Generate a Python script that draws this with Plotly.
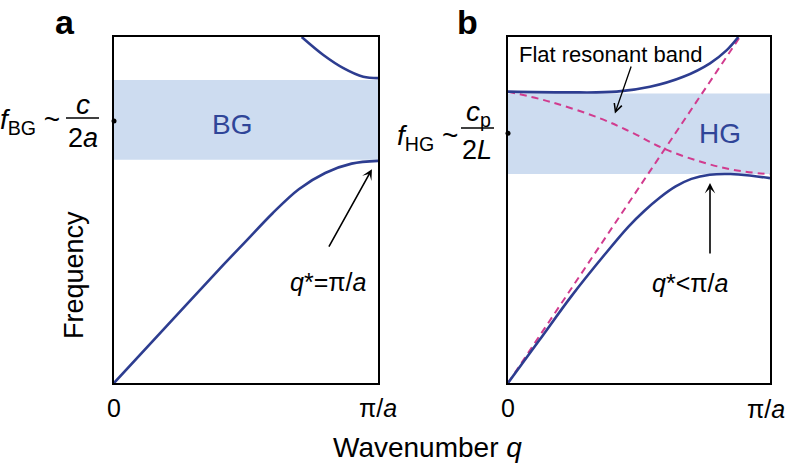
import plotly.graph_objects as go

W, H = 788, 466

# ---------------- data (normalised: q in units of pi/a, frequency in box units) ----------------
a_lower_q = [0, 0.2, 0.4, 0.5, 0.6, 0.7, 0.8, 0.9, 1.0]
a_lower_f = [0, 0.165, 0.33, 0.41, 0.49, 0.56, 0.607, 0.634, 0.642]
a_upper_q = [0.711, 0.793, 0.869, 0.944, 1.0]
a_upper_f = [1.0, 0.948, 0.910, 0.885, 0.881]
a_gap = [0.645, 0.876]
a_gap_mid = 0.757

b_lower_q = [0, 0.12, 0.24, 0.37, 0.46, 0.52, 0.58, 0.64, 0.70, 0.77, 0.85, 0.93, 1.0]
b_lower_f = [0, 0.124, 0.249, 0.372, 0.452, 0.497, 0.536, 0.568, 0.590, 0.602, 0.604, 0.599, 0.592]
b_upper_q = [0, 0.224, 0.415, 0.542, 0.669, 0.771, 0.835, 0.879]
b_upper_f = [0.842, 0.840, 0.842, 0.856, 0.885, 0.924, 0.962, 1.0]
b_flat_q = [0, 0.16, 0.351, 0.478, 0.593, 0.733, 0.86, 1.0]
b_flat_f = [0.842, 0.813, 0.765, 0.722, 0.678, 0.640, 0.616, 0.603]
b_light_q = [0, 0.885]
b_light_f = [0, 1.0]
b_gap = [0.604, 0.837]
b_gap_mid = 0.722

x_tickvals = [0, 1]
x_ticktext = ["0", "π/<i>a</i>"]

# ---------------- styles ----------------
FONT = "Liberation Sans, Arial, Helvetica, sans-serif"
BLUE = "#2d3d90"
TXTBLUE = "#2f4598"
BAND = "#cddcf0"
MAG = "#d13b8e"


def px(x, y):
    return x / W, 1 - y / H


fig = go.Figure()
solid = dict(color=BLUE, width=2.6, shape="spline", smoothing=1.0)

# panel a
fig.add_trace(go.Scatter(x=a_lower_q, y=a_lower_f, mode="lines", line=solid, xaxis="x", yaxis="y"))
fig.add_trace(go.Scatter(x=a_upper_q, y=a_upper_f, mode="lines", line=solid, xaxis="x", yaxis="y"))
fig.add_trace(go.Scatter(x=[0], y=[a_gap_mid], mode="markers", marker=dict(color="black", size=5), cliponaxis=False, xaxis="x", yaxis="y"))

# panel b
fig.add_trace(go.Scatter(x=b_light_q, y=b_light_f, mode="lines", line=dict(color=MAG, width=2, dash="7px,5px"), xaxis="x2", yaxis="y2"))
fig.add_trace(go.Scatter(x=b_flat_q, y=b_flat_f, mode="lines", line=dict(color=MAG, width=2, dash="7px,5px", shape="spline", smoothing=1.0), xaxis="x2", yaxis="y2"))
fig.add_trace(go.Scatter(x=b_lower_q, y=b_lower_f, mode="lines", line=solid, xaxis="x2", yaxis="y2"))
fig.add_trace(go.Scatter(x=b_upper_q, y=b_upper_f, mode="lines", line=solid, xaxis="x2", yaxis="y2"))
fig.add_trace(go.Scatter(x=[0], y=[b_gap_mid], mode="markers", marker=dict(color="black", size=5), cliponaxis=False, xaxis="x2", yaxis="y2"))

# gap bands
fig.add_shape(type="rect", xref="x", yref="y", x0=0, x1=1, y0=a_gap[0], y1=a_gap[1], fillcolor=BAND, line_width=0, layer="below")
fig.add_shape(type="rect", xref="x2", yref="y2", x0=0, x1=1, y0=b_gap[0], y1=b_gap[1], fillcolor=BAND, line_width=0, layer="below")

ydom = [(H - 383) / H, (H - 37) / H]
axis_common = dict(range=[0, 1], showgrid=False, zeroline=False, showline=True, mirror=True,
                   linecolor="black", linewidth=1.5, fixedrange=True, automargin=False)
fig.update_layout(
    width=W, height=H, margin=dict(l=0, r=0, t=0, b=0, pad=0, autoexpand=False),
    paper_bgcolor="white", plot_bgcolor="white", showlegend=False,
    font=dict(family=FONT, color="black"),
    xaxis=dict(domain=[114 / W, 378 / W], tickvals=x_tickvals, ticktext=x_ticktext, ticks="",
               tickfont=dict(size=25, family=FONT), ticklabelstandoff=2, **axis_common),
    yaxis=dict(domain=ydom, showticklabels=False, ticks="", **axis_common),
    xaxis2=dict(domain=[508 / W, 770 / W], tickvals=x_tickvals[:1], ticktext=x_ticktext[:1], ticks="",
                tickfont=dict(size=25, family=FONT), ticklabelstandoff=2, anchor="y2", **axis_common),
    yaxis2=dict(domain=ydom, showticklabels=False, ticks="", anchor="x2", **axis_common),
)

ann = []


def ptext(x, y, text, size, xanchor="center", yanchor="middle", angle=0, color="black"):
    xx, yy = px(x, y)
    ann.append(dict(x=xx, y=yy, xref="paper", yref="paper", text=text, showarrow=False,
                    xanchor=xanchor, yanchor=yanchor, textangle=angle,
                    font=dict(size=size, family=FONT, color=color)))


# panel letters
ptext(65, 22, "<b>a</b>", 34)
ptext(467, 22, "<b>b</b>", 34)

# right-end tick label of panel b (kept inside the page)
ptext(787, 409, x_ticktext[1], 25, xanchor="right")

# axis titles
ptext(74, 275, "Frequency", 27, angle=-90)
ptext(428, 447, "Wavenumber <i>q</i>", 28)

# gap labels (data coords)
ann.append(dict(x=0.446, y=0.746, xref="x", yref="y", text="BG", showarrow=False,
                font=dict(size=28, family=FONT, color=TXTBLUE)))
ann.append(dict(x=0.809, y=0.722, xref="x2", yref="y2", text="HG", showarrow=False,
                font=dict(size=28, family=FONT, color=TXTBLUE)))

# frequency formulas
ptext(62, 122, "<i>f</i><sub>BG</sub> ~", 28, xanchor="right")
ptext(83, 104, "<i>c</i>", 28)
ptext(83, 138, "2<i>a</i>", 27)
ptext(460, 137, "<i>f</i><sub>HG</sub> ~", 28, xanchor="right")
ptext(478, 113, "<i>c</i><sub>p</sub>", 28)
ptext(477, 150, "2<i>L</i>", 27)
fig.add_shape(type="line", xref="paper", yref="paper", x0=66 / W, x1=99 / W, y0=1 - 118 / H, y1=1 - 118 / H, line=dict(color="black", width=1.5))
fig.add_shape(type="line", xref="paper", yref="paper", x0=461 / W, x1=494 / W, y0=1 - 128 / H, y1=1 - 128 / H, line=dict(color="black", width=1.5))

# arrows and annotations in panels
ann.append(dict(x=0.977, y=0.618, ax=0.811, ay=0.390, xref="x", yref="y", axref="x", ayref="y",
                showarrow=True, arrowhead=3, arrowsize=1.1, arrowwidth=1.6, arrowcolor="black", text=""))
ann.append(dict(x=0.811, y=0.292, xref="x", yref="y", text="<i>q</i>*=π/<i>a</i>", showarrow=False,
                font=dict(size=25, family=FONT)))
ann.append(dict(x=0.771, y=0.578, ax=0.771, ay=0.370, xref="x2", yref="y2", axref="x2", ayref="y2",
                showarrow=True, arrowhead=3, arrowsize=1.1, arrowwidth=1.6, arrowcolor="black", text=""))
ann.append(dict(x=0.695, y=0.289, xref="x2", yref="y2", text="<i>q</i>*<π/<i>a</i>", showarrow=False,
                font=dict(size=25, family=FONT)))
ann.append(dict(x=0.408, y=0.779, ax=0.472, ay=0.919, xref="x2", yref="y2", axref="x2", ayref="y2",
                showarrow=True, arrowhead=5, arrowsize=1.2, arrowwidth=1.3, arrowcolor="black", text=""))
ann.append(dict(x=0.393, y=0.948, xref="x2", yref="y2", text="Flat resonant band", showarrow=False,
                font=dict(size=22, family=FONT)))

fig.update_layout(annotations=ann)
fig.write_html("out.html", config={"displayModeBar": False},
               post_script="document.body.style.margin='0';document.body.style.overflow='hidden';")
